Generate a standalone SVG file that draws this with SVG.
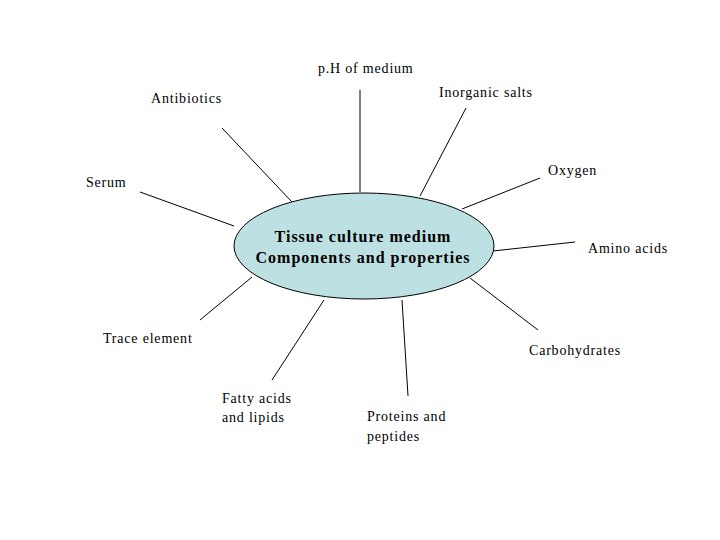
<svg xmlns="http://www.w3.org/2000/svg" width="720" height="540" viewBox="0 0 720 540">
<style>
.l{stroke:#000;stroke-width:1;fill:none}
.t{font-family:"Liberation Serif",serif;font-size:14px;letter-spacing:0.8px;fill:#000}
.b{font-family:"Liberation Serif",serif;font-size:16px;letter-spacing:1px;font-weight:bold;fill:#000;text-anchor:middle}
</style>
<rect width="720" height="540" fill="#fff"/>
<g id="connectors">
<line class="l" x1="360" y1="90" x2="360" y2="192"/>
<line class="l" x1="222" y1="128" x2="292" y2="202"/>
<line class="l" x1="466" y1="108" x2="420" y2="196"/>
<line class="l" x1="540" y1="178" x2="462" y2="209"/>
<line class="l" x1="140" y1="192" x2="234" y2="226"/>
<line class="l" x1="575" y1="242" x2="493" y2="251"/>
<line class="l" x1="252" y1="277" x2="200" y2="320"/>
<line class="l" x1="470" y1="278" x2="538" y2="330"/>
<line class="l" x1="324" y1="300" x2="272" y2="380"/>
<line class="l" x1="402" y1="300" x2="408" y2="396"/>
</g>
<g id="center">
<ellipse cx="364" cy="246" rx="130" ry="53" fill="#bde0e3" stroke="#000"/>
<text class="b" x="363" y="242">Tissue culture medium</text>
<text class="b" x="363" y="263">Components and properties</text>
</g>
<g id="ph"><text class="t" x="318" y="73">p.H of medium</text></g>
<g id="antibiotics"><text class="t" x="151" y="103">Antibiotics</text></g>
<g id="inorganic"><text class="t" x="439" y="97">Inorganic salts</text></g>
<g id="oxygen"><text class="t" x="548" y="175">Oxygen</text></g>
<g id="serum"><text class="t" x="86" y="187">Serum</text></g>
<g id="amino"><text class="t" x="588" y="253">Amino acids</text></g>
<g id="trace"><text class="t" x="103" y="343">Trace element</text></g>
<g id="carbo"><text class="t" x="529" y="355">Carbohydrates</text></g>
<g id="fatty"><text class="t" x="222" y="403">Fatty acids</text><text class="t" x="222" y="422">and lipids</text></g>
<g id="proteins"><text class="t" x="367" y="421">Proteins and</text><text class="t" x="367" y="441">peptides</text></g>
</svg>
